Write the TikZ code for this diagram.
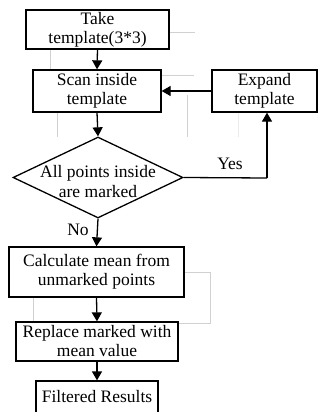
\documentclass[tikz,border=0pt]{standalone}
\usepackage{fontspec}
\setmainfont{Liberation Serif}
\usetikzlibrary{arrows.meta,shapes.geometric}
\begin{document}
\begin{tikzpicture}[x=1pt,y=-1pt,
  box/.style={draw=black,line width=1.3pt,fill=white,inner sep=0pt,align=center,
    font=\fontsize{17.5}{19}\selectfont},
  dia/.style={draw=black,line width=1.3pt,fill=white,diamond,inner sep=0pt},
  arr/.style={line width=1.3pt,-{Triangle[length=9pt,width=10pt]}},
  ghost/.style={draw=black!18,line width=0.9pt},
  lbl/.style={font=\fontsize{17.5}{20}\selectfont,inner sep=0pt,align=center}]
\useasboundingbox (0,0) rectangle (321,412);
\clip (0,0) rectangle (321,412);
% faint gray lines
\draw[ghost] (169,32) -- (195,32);
\draw[ghost] (50,49) -- (50,70);
\draw[ghost] (161,75) -- (194,75);
\draw[ghost] (57,112) -- (57,137);
\draw[ghost] (187,95) -- (187,137);
\draw[ghost,draw=black!8] (238,112) -- (238,137);
\draw[ghost] (33,272) rectangle (210,323);
% nodes
\node[box,minimum width=143pt,minimum height=39pt] (take) at (97.5,29.5) {Take\\template(3*3)};
\node[box,minimum width=128pt,minimum height=42pt] (scan) at (97,91) {Scan inside\\template};
\node[box,minimum width=105pt,minimum height=42pt] (exp) at (264.5,91) {Expand\\template};
\node[dia,minimum width=170pt,minimum height=81pt,
  label={[lbl,yshift=-4pt]center:All points inside\\are marked}] (dec) at (98,177.5) {};
\node[box,minimum width=175pt,minimum height=50pt] (calc) at (96.5,272) {Calculate mean from\\unmarked points};
\node[box,minimum width=162pt,minimum height=39pt] (rep) at (97,341.5) {Replace marked with\\mean value};
\node[box,minimum width=122pt,minimum height=40pt] (fil) at (97,401) {\raisebox{10pt}{Filtered Results}};
\coordinate (yc) at (267,178);
% connectors
\draw[arr] (take.south) -- (scan.north);
\draw[arr] (scan.south) -- (dec.north);
\draw[arr] (exp.west) -- (scan.east);
\draw[line width=1.3pt] (dec.east) -- (yc);
\draw[arr] (yc) -- (exp.south -| yc);
\draw[arr] (dec.south) -- (calc.north);
\draw[arr] (calc.south) -- (rep.north);
\draw[arr] (rep.south) -- (fil.north);
% labels
\node[lbl] (yes) at (230,164) {Yes};
\node[lbl] (no) at (78,230) {No};
\end{tikzpicture}
\end{document}
